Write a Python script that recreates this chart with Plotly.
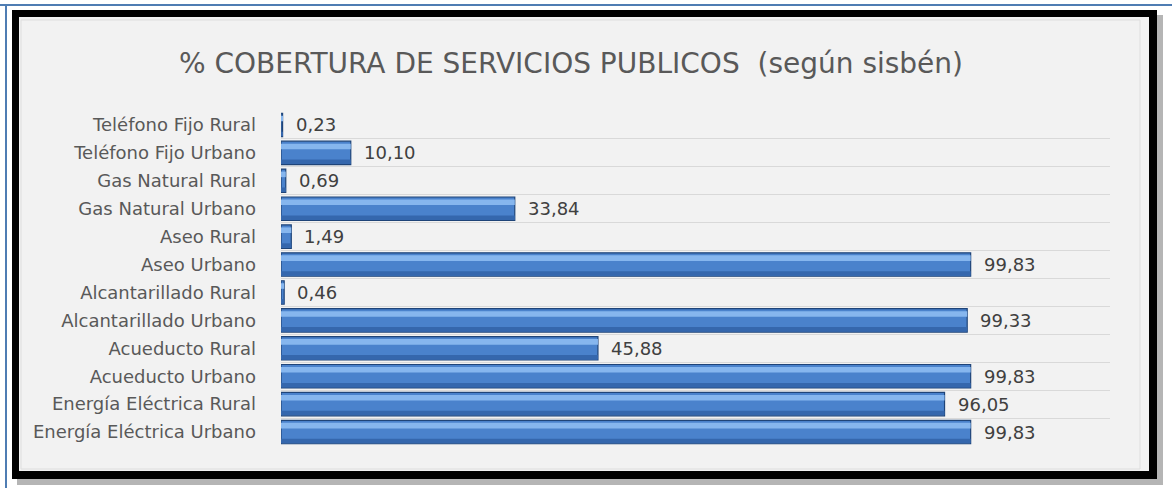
import plotly.graph_objects as go

categories = [
    "Teléfono Fijo Rural", "Teléfono Fijo Urbano", "Gas Natural Rural",
    "Gas Natural Urbano", "Aseo Rural", "Aseo Urbano", "Alcantarillado Rural",
    "Alcantarillado Urbano", "Acueducto Rural", "Acueducto Urbano",
    "Energía Eléctrica Rural", "Energía Eléctrica Urbano",
]
values = [0.23, 10.10, 0.69, 33.84, 1.49, 99.83, 0.46, 99.33, 45.88, 99.83, 96.05, 99.83]
value_labels = [f"{v:.2f}".replace(".", ",") for v in values]
title_text = "% COBERTURA DE SERVICIOS PUBLICOS  (según sisbén)"

W, H = 1172, 488
PX0, PX1, PY0, PY1 = 281, 1110, 111, 446


def px(x):
    return (x - PX0) / (PX1 - PX0)


def py(y):
    return (PY1 - y) / (PY1 - PY0)


fig = go.Figure()
fig.add_trace(go.Bar(
    y=categories, x=values, orientation="h", width=0.84,
    marker=dict(color="#4a82cc", line=dict(color="#1f4478", width=1.2)),
    hoverinfo="skip", showlegend=False,
))
# bevel look: lighter band near the top, darker band near the bottom
fig.add_trace(go.Bar(
    y=categories, x=values, orientation="h", width=0.2, offset=-0.33,
    marker=dict(color="#86b6ee", line=dict(width=0)),
    hoverinfo="skip", showlegend=False,
))
fig.add_trace(go.Bar(
    y=categories, x=values, orientation="h", width=0.16, offset=0.24,
    marker=dict(color="#3567ad", line=dict(width=0)),
    hoverinfo="skip", showlegend=False,
))

annotations = [
    dict(x=v, y=c, xref="x", yref="y", text=t, showarrow=False, xanchor="left",
         yanchor="middle", xshift=11,
         font=dict(family="DejaVu Sans", size=18, color="#404040"))
    for c, v, t in zip(categories, values, value_labels)
]

shapes = [
    # document frame lines
    dict(type="line", xref="paper", yref="paper", x0=px(0), x1=px(W), y0=py(5), y1=py(5),
         line=dict(color="#4f7db3", width=2)),
    dict(type="line", xref="paper", yref="paper", x0=px(6), x1=px(6), y0=py(5), y1=py(H),
         line=dict(color="#4f7db3", width=2)),
    # shadow
    dict(type="rect", xref="paper", yref="paper", x0=px(17), x1=px(1163), y0=py(15), y1=py(485),
         fillcolor="#b5b5b5", line=dict(width=0)),
    # black border
    dict(type="rect", xref="paper", yref="paper", x0=px(12), x1=px(1157), y0=py(10), y1=py(479),
         fillcolor="#000000", line=dict(width=0)),
    # chart background
    dict(type="rect", xref="paper", yref="paper", x0=px(19), x1=px(1149), y0=py(17), y1=py(471),
         fillcolor="#f2f2f2", line=dict(width=0)),
    dict(type="rect", xref="paper", yref="paper", x0=px(21), x1=px(1140), y0=py(20), y1=py(469),
         fillcolor="rgba(0,0,0,0)", line=dict(color="#dedede", width=1)),
]
for s in shapes:
    s["layer"] = "below"

fig.update_layout(
    width=W, height=H,
    margin=dict(l=PX0, r=W - PX1, t=PY0, b=H - PY1, pad=0, autoexpand=False),
    paper_bgcolor="white", plot_bgcolor="rgba(0,0,0,0)",
    barmode="overlay",
    title=dict(text=title_text, x=571 / W, xanchor="center", y=1 - 63 / H, yanchor="middle",
               font=dict(family="DejaVu Sans", size=28, color="#595959")),
    shapes=shapes,
    annotations=annotations,
    xaxis=dict(range=[0, 120], showticklabels=False, showgrid=False, zeroline=False,
               showline=False, ticks="", automargin=False),
    yaxis=dict(autorange="reversed", tickson="boundaries", showgrid=True,
               gridcolor="#d9d9d9", gridwidth=1, ticks="", showline=False,
               automargin=False,
               tickfont=dict(family="DejaVu Sans", size=18, color="#595959"),
               ticklabelstandoff=24),
)

fig.write_html(
    "out.html",
    config={"displayModeBar": False},
    post_script="document.body.style.margin='0px';document.body.style.overflow='hidden';",
)
